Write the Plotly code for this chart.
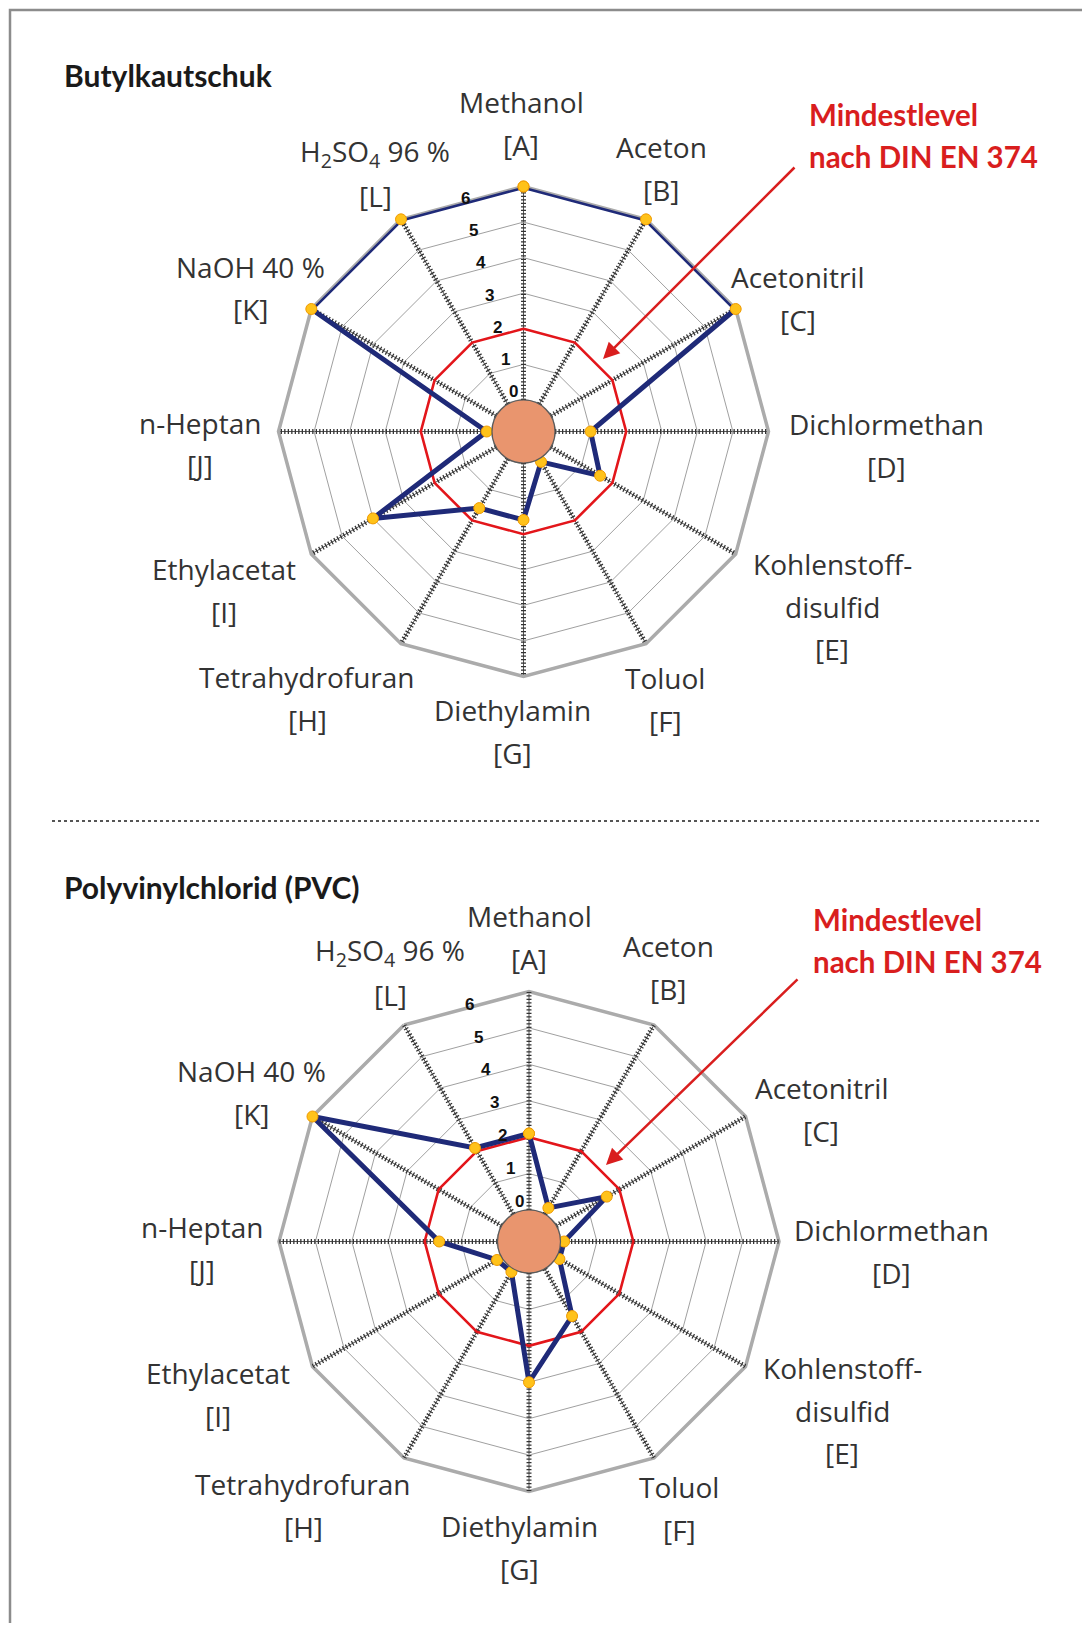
import math
import plotly.graph_objects as go

# The page body adds an 8px margin; the figure is sized so it fits the window.
OFF = 8
W, H = 1090 - 2 * OFF, 1631 - 2 * OFF

# ---------------- data ----------------
categories = ["Methanol", "Aceton", "Acetonitril", "Dichlormethan", "Kohlenstoffdisulfid",
              "Toluol", "Diethylamin", "Tetrahydrofuran", "Ethylacetat", "n-Heptan",
              "NaOH 40 %", "H2SO4 96 %"]
label_lines = [["Methanol", "[A]"], ["Aceton", "[B]"], ["Acetonitril", "[C]"],
               ["Dichlormethan", "[D]"], ["Kohlenstoff-", "disulfid", "[E]"],
               ["Toluol", "[F]"], ["Diethylamin", "[G]"], ["Tetrahydrofuran", "[H]"],
               ["Ethylacetat", "[I]"], ["n-Heptan", "[J]"], ["NaOH 40 %", "[K]"],
               ["H<sub>2</sub>SO<sub>4</sub> 96 %", "[L]"]]
butyl_values = [6, 6, 6, 1.0, 1.6, 0.1, 1.6, 1.6, 4.0, 0.15, 6, 6]
pvc_values = [2.1, 0.2, 1.6, 0.1, 0.1, 1.5, 3.0, 0.1, 0.15, 1.6, 6, 2.1]
min_level = [2] * 12
radial_ticks = [0, 1, 2, 3, 4, 5, 6]
titles = ["Butylkautschuk", "Polyvinylchlorid (PVC)"]
note_lines = ["Mindestlevel", "nach DIN EN 374"]

# ---------------- layout geometry (window pixels) ----------------
charts = [
    dict(cx=523.5, cy=431.5, R=245, values=butyl_values, title=titles[0], title_y=75,
         label_pos=[(521, 102), (661, 147), (798, 277), (886, 424), (832, 564), (665, 678),
                    (512, 710), (307, 677), (224, 569), (200, 423), (250, 267), (375, 153)],
         note=(807, 114), arrow=((796, 166), (603, 359))),
    dict(cx=529, cy=1241.5, R=250, values=pvc_values, title=titles[1], title_y=887,
         label_pos=[(529, 916), (668, 946), (821, 1088), (891, 1230), (842, 1368), (679, 1487),
                    (519, 1526), (303, 1484), (218, 1373), (202, 1227), (251, 1071), (390, 952)],
         note=(811, 919), arrow=((799, 978), (606, 1165))),
]
LINE_GAP = 42.5
HOLE_PX = 31.5
TICK_ANGLE_DEG = 104


def px(x):
    return (x - OFF) / W


def py(y):
    return 1 - (y - OFF) / H


fig = go.Figure()
annotations = []
shapes = []
label_font = dict(family="Open Sans", size=28, color="#333333")

for i, c in enumerate(charts):
    name = "polar" if i == 0 else "polar2"
    theta_closed = categories + [categories[0]]

    # hatched spokes
    spoke_r, spoke_t = [], []
    for cat in categories:
        spoke_r += [radial_ticks[0], radial_ticks[-1], None]
        spoke_t += [cat, cat, None]
    fig.add_trace(go.Scatterpolar(r=spoke_r, theta=spoke_t, mode="lines", subplot=name,
                                  line=dict(color="#333333", width=5, dash="1.3px,2.2px"),
                                  hoverinfo="skip", showlegend=False, connectgaps=False))
    # minimum level ring
    fig.add_trace(go.Scatterpolar(r=min_level + [min_level[0]], theta=theta_closed, mode="lines",
                                  subplot=name, line=dict(color="#E3161B", width=2.6),
                                  showlegend=False, hoverinfo="skip"))
    # material values
    vals = c["values"]
    fig.add_trace(go.Scatterpolar(r=vals + [vals[0]], theta=theta_closed, mode="lines+markers",
                                  subplot=name,
                                  line=dict(color="#1F2A78", width=5),
                                  marker=dict(size=11, color="#FFC21A",
                                              line=dict(color="#F09A00", width=1)),
                                  showlegend=False))

    R = c["R"]
    dom = dict(x=[px(c["cx"] - R), px(c["cx"] + R)], y=[py(c["cy"] + R), py(c["cy"] - R)])
    polar = dict(
        domain=dom, hole=HOLE_PX / R, gridshape="linear", bgcolor="white",
        angularaxis=dict(rotation=90, direction="clockwise", showticklabels=False, ticks="",
                         showline=True, linecolor="#ABABAB", linewidth=3.5,
                         gridcolor="#555555", gridwidth=1, categoryorder="array",
                         categoryarray=categories, layer="below traces"),
        radialaxis=dict(range=[radial_ticks[0], radial_ticks[-1]], tickvals=radial_ticks,
                        showline=False, ticks="", showticklabels=False,
                        gridcolor="#A0A0A0", gridwidth=1.1, layer="below traces"),
    )
    fig.update_layout(**{name: polar})

    # radial scale labels, placed along a ray slightly left of the top spoke
    a = math.radians(TICK_ANGLE_DEG)
    for v in radial_ticks:
        rr = HOLE_PX + (R - HOLE_PX) * v / radial_ticks[-1]
        rl = 12 + 0.93 * rr
        annotations.append(dict(x=px(c["cx"] + rl * math.cos(a)), y=py(c["cy"] - rl * math.sin(a)),
                                xref="paper", yref="paper", text="<b>%d</b>" % v, showarrow=False,
                                xanchor="center", yanchor="middle",
                                font=dict(family="Liberation Sans", size=17, color="#111111")))

    # center disc
    shapes.append(dict(type="circle", xref="paper", yref="paper", layer="above",
                       x0=px(c["cx"] - HOLE_PX), x1=px(c["cx"] + HOLE_PX),
                       y0=py(c["cy"] + HOLE_PX), y1=py(c["cy"] - HOLE_PX),
                       fillcolor="#E9956E", line=dict(color="#5a5a5a", width=1.2)))

    # category labels
    for lines, (lx, ly) in zip(label_lines, c["label_pos"]):
        for k, t in enumerate(lines):
            annotations.append(dict(x=px(lx), y=py(ly + k * LINE_GAP), xref="paper", yref="paper",
                                    text=t, showarrow=False, xanchor="center", yanchor="middle",
                                    font=label_font))
    # title
    annotations.append(dict(x=px(62), y=py(c["title_y"]), xref="paper", yref="paper",
                            text="<b>%s</b>" % c["title"], showarrow=False, xanchor="left",
                            yanchor="middle",
                            font=dict(family="Lato", size=30, color="#1a1a1a")))
    # note
    nx, ny = c["note"]
    for k, t in enumerate(note_lines):
        annotations.append(dict(x=px(nx), y=py(ny + k * LINE_GAP), xref="paper", yref="paper",
                                text="<b>%s</b>" % t, showarrow=False, xanchor="left",
                                yanchor="middle",
                                font=dict(family="Lato", size=29.5, color="#D91E1E")))
    # arrow
    (ax0, ay0), (ax1, ay1) = c["arrow"]
    annotations.append(dict(x=px(ax1), y=py(ay1), xref="paper", yref="paper",
                            ax=ax0 - ax1, ay=ay0 - ay1, axref="pixel", ayref="pixel",
                            text="", showarrow=True, arrowhead=2, arrowsize=1.3,
                            arrowwidth=2.5, arrowcolor="#D91E1E"))

# separator and frame
shapes.append(dict(type="line", xref="paper", yref="paper", x0=px(52), x1=px(1040),
                   y0=py(821), y1=py(821), line=dict(color="#555555", width=2, dash="dot")))
shapes.append(dict(type="rect", xref="paper", yref="paper", x0=px(10), x1=px(1200),
                   y0=py(1700), y1=py(10), line=dict(color="#8C8C8C", width=2.5)))

fig.update_layout(width=W, height=H, margin=dict(l=0, r=0, t=0, b=0),
                  paper_bgcolor="white", showlegend=False,
                  annotations=annotations, shapes=shapes)

fig.write_html("out.html")
